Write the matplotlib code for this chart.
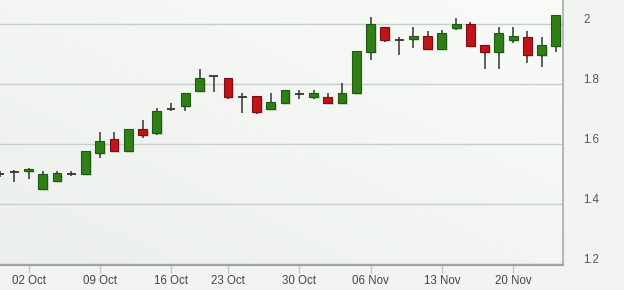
import numpy as np
import matplotlib
matplotlib.use("Agg")
import matplotlib.pyplot as plt
import matplotlib.transforms as mtrans

plt.rcParams['font.family'] = ['Liberation Sans', 'DejaVu Sans']

# daily candles, 28 Sep .. 23 Nov (trading days only)
opens  = [1.500, 1.507, 1.510, 1.450, 1.477, 1.500, 1.500, 1.570, 1.617, 1.577,
          1.650, 1.637, 1.717, 1.727, 1.777, 1.827, 1.820, 1.757, 1.760, 1.717,
          1.737, 1.767, 1.757, 1.757, 1.737, 1.770, 1.907, 1.990, 1.947, 1.950,
          1.960, 1.917, 1.987, 2.000, 1.930, 1.907, 1.947, 1.957, 1.897, 1.927]
highs  = [1.510, 1.513, 1.520, 1.510, 1.510, 1.510, 1.577, 1.640, 1.640, 1.650,
          1.680, 1.720, 1.737, 1.770, 1.850, 1.827, 1.820, 1.770, 1.760, 1.770,
          1.780, 1.780, 1.780, 1.770, 1.803, 1.910, 2.023, 1.990, 1.957, 1.990,
          1.977, 1.980, 2.020, 2.007, 1.930, 1.990, 1.990, 1.977, 1.957, 2.030]
lows   = [1.490, 1.473, 1.483, 1.450, 1.477, 1.493, 1.500, 1.553, 1.577, 1.577,
          1.620, 1.630, 1.710, 1.710, 1.777, 1.773, 1.750, 1.703, 1.700, 1.717,
          1.737, 1.750, 1.750, 1.737, 1.737, 1.770, 1.880, 1.940, 1.897, 1.920,
          1.917, 1.917, 1.980, 1.927, 1.850, 1.850, 1.937, 1.870, 1.857, 1.907]
closes = [1.501, 1.508, 1.517, 1.500, 1.503, 1.501, 1.577, 1.610, 1.577, 1.650,
          1.630, 1.710, 1.718, 1.770, 1.820, 1.826, 1.757, 1.758, 1.707, 1.740,
          1.780, 1.768, 1.770, 1.737, 1.770, 1.910, 2.000, 1.947, 1.948, 1.960,
          1.917, 1.970, 2.000, 1.927, 1.907, 1.970, 1.960, 1.897, 1.930, 2.030]

tick_pos = [2, 7, 12, 16, 21, 26, 31, 36]
tick_labels = ['02 Oct', '09 Oct', '16 Oct', '23 Oct', '30 Oct', '06 Nov', '13 Nov', '20 Nov']
y_ticks = [1.2, 1.4, 1.6, 1.8, 2.0]
y_labels = ['1.2', '1.4', '1.6', '1.8', '2']

o = np.array(opens)
h = np.array(highs)
l = np.array(lows)
c = np.array(closes)
x = np.arange(len(o))

fig = plt.figure(figsize=(6.24, 2.90), dpi=100, facecolor='#f2f4f2')
ax = fig.add_axes([0, 25 / 290, 563 / 624, 265 / 290])

# soft diagonal background gradient
gx, gy = np.meshgrid(np.linspace(0, 1, 64), np.linspace(0, 1, 64))
g = 0.5 * gx + 0.5 * gy
c0 = np.array([0.925, 0.94, 0.925])
c1 = np.array([0.975, 0.985, 0.975])
img = c0 + (c1 - c0) * g[..., None]
ax.imshow(img, extent=[0, 1, 0, 1], transform=ax.transAxes, origin='lower',
          aspect='auto', zorder=0)

for yv in y_ticks:
    ax.axhline(yv, color='#c9cfc9', lw=1, zorder=1)

up = c > o
flat = np.abs(c - o) < 0.004
w = 0.62

ax.vlines(x, l, h, color='#333333', lw=1.1, zorder=2)

body_col = np.where(up, '#2f7f16', '#c01418')
edge_col = np.where(up, '#1d5a0c', '#7e0c10')
for i in x:
    if flat[i]:
        ax.hlines(o[i], i - w / 2, i + w / 2, color='#333333', lw=1.3, zorder=3)
        continue
    lo = min(o[i], c[i])
    hgt = abs(c[i] - o[i])
    # little drop shadow
    ax.bar(i + 0.12, hgt, width=w, bottom=lo - 0.006, color='#000000', alpha=0.12,
           lw=0, zorder=2)
    ax.bar(i, hgt, width=w, bottom=lo, color=body_col[i], edgecolor=edge_col[i],
           lw=0.8, zorder=3)

ax.set_xlim(0, 39.5)
ax.set_ylim(1.197, 2.08)

ax.set_xticks(tick_pos)
ax.set_xticklabels(tick_labels)
ax.set_yticks(y_ticks)
ax.set_yticklabels(y_labels)
ax.yaxis.tick_right()
ax.tick_params(axis='x', direction='out', length=6, width=1, color='#c8ccc8',
               pad=1.5, labelsize=8.3, labelcolor='#444444')
ax.tick_params(axis='y', length=0, pad=14.5, labelsize=8.3, labelcolor='#555555')
shift = mtrans.ScaledTranslation(0, 6 / 100, fig.dpi_scale_trans)
for lab in ax.get_yticklabels():
    lab.set_horizontalalignment('left')
    lab.set_transform(lab.get_transform() + shift)

for s in ['top', 'left']:
    ax.spines[s].set_visible(False)
ax.spines['bottom'].set_color('#a0a4a0')
ax.spines['bottom'].set_linewidth(1.6)
ax.spines['right'].set_color('#a8aca8')
ax.spines['right'].set_linewidth(1.2)

fig.savefig('out.png', dpi=100, facecolor=fig.get_facecolor())
